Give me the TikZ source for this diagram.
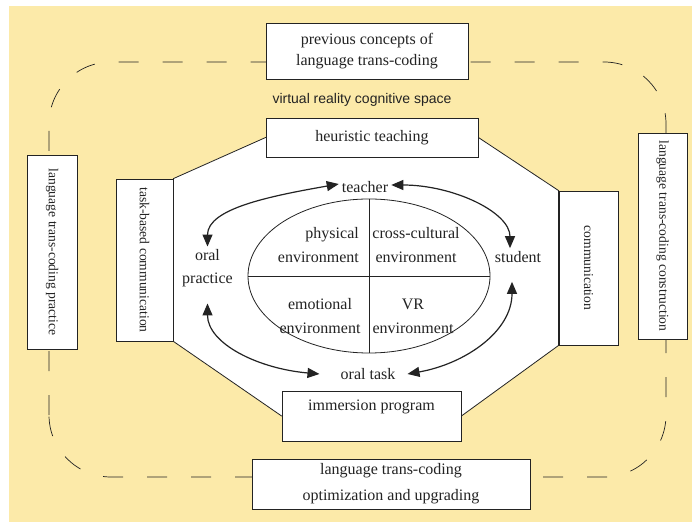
\documentclass[tikz,border=0pt]{standalone}
\usepackage{fontspec}
\setmainfont{Liberation Serif}
\newfontfamily\vrfont{Liberation Sans}
\usetikzlibrary{shapes.geometric,arrows.meta,backgrounds}
\definecolor{bgyellow}{RGB}{252,234,169}
\definecolor{inkgray}{RGB}{35,35,35}

\begin{document}
\begin{tikzpicture}[x=1pt, y=1pt,
    box/.style={draw=inkgray, fill=white, line width=0.8pt, inner sep=0pt, align=center,
        text=inkgray, font=\fontsize{16}{21}\selectfont},
    vbox/.style={box, rotate=-90, font=\fontsize{13.6}{16}\selectfont},
    lbl/.style={inner sep=3pt, align=center, text=inkgray, font=\fontsize{16}{24}\selectfont},
    biarrow/.style={{Triangle[length=12pt,width=10pt]}-{Triangle[length=12pt,width=10pt]},
        line width=1.2pt, draw=inkgray},
    vrdash/.style={draw=inkgray, line width=0.7pt, dash pattern=on 20pt off 24pt}]

    \useasboundingbox (0,0) rectangle (692,522);

    % 外框
    \node[box, minimum width=202, minimum height=56] (prev) at (367,471) {previous concepts of\\language trans-coding};
    \node[box, minimum width=278, minimum height=50, font=\fontsize{16}{26}\selectfont] (optim) at (391,38)
        {language trans-coding\\optimization and upgrading};
    \node[vbox, minimum width=194, minimum height=50] (practice) at (52,270) {language trans-coding practice};
    \node[vbox, minimum width=206, minimum height=49] (construct) at (662.5,286) {language trans-coding construction};
    \node[lbl, font=\vrfont\fontsize{14}{16}\selectfont] (vrspace) at (362,422) {virtual reality cognitive space};

    % 八边形上的方框
    \node[box, minimum width=212, minimum height=39] (heur) at (372,384.5) {heuristic teaching};
    \node[vbox, minimum width=162, minimum height=57] (task) at (144.5,262) {task-based communication};
    \node[vbox, minimum width=154, minimum height=59] (comm) at (588.5,254) {communication};
    \node[box, minimum width=179, text height=19.5pt, text depth=30.5pt] (immer) at (371.5,106) {immersion program};

    % 椭圆
    \node[draw=inkgray, line width=0.8pt, ellipse, minimum width=242, minimum height=154, inner sep=0pt] (env) at (369,246) {};
    \draw[draw=inkgray, line width=0.8pt] (env.north) -- (env.south);
    \draw[draw=inkgray, line width=0.8pt] (env.west) -- (env.east);
    \node[lbl, align=right, anchor=east] (phys) at (362,277) {physical\\environment};
    \node[lbl] (cross) at (416,277) {cross-cultural\\environment};
    \node[lbl] (emo) at (320,206) {emotional\\environment};
    \node[lbl] (vrenv) at (413,206) {VR\\environment};

    % 四个角色
    \node[lbl] (teacher) at (365,335) {teacher};
    \node[lbl, font=\fontsize{16}{23}\selectfont] (oralp) at (207.5,253.5) {oral\\practice};
    \node[lbl] (student) at (518,265) {student};
    \node[lbl] (otask) at (368,148) {oral task};

    % 箭头
    \draw[biarrow] ([yshift=3pt]teacher.west) .. controls +(190:70) and +(90:38) .. (oralp.north);
    \draw[biarrow] ([yshift=2pt]teacher.east) .. controls +(0:62) and +(90:36) .. ([xshift=-8pt]student.north);
    \draw[biarrow] ([shift={(-6pt,-16pt)}]student.south) .. controls +(-90:50) and +(10:58) .. ([xshift=9pt]otask.east);
    \draw[biarrow] ([yshift=-13pt]oralp.south) .. controls +(-90:40) and +(175:62) .. ([xshift=-18pt]otask.west);

    % 背景、虚线框、八边形
    \begin{scope}[on background layer]
        \fill[bgyellow] (9,0) rectangle (692,516);
        \draw[vrdash, rounded corners=62pt] (49,45) rectangle (666,460);
        \draw[draw=inkgray, line width=0.8pt, fill=white] (heur.west) -- (heur.east) -- (comm.south west)
            -- (comm.south east) -- (immer.east) -- (immer.west) -- (task.north east) -- (task.north west) -- cycle;
    \end{scope}
\end{tikzpicture}
\end{document}
